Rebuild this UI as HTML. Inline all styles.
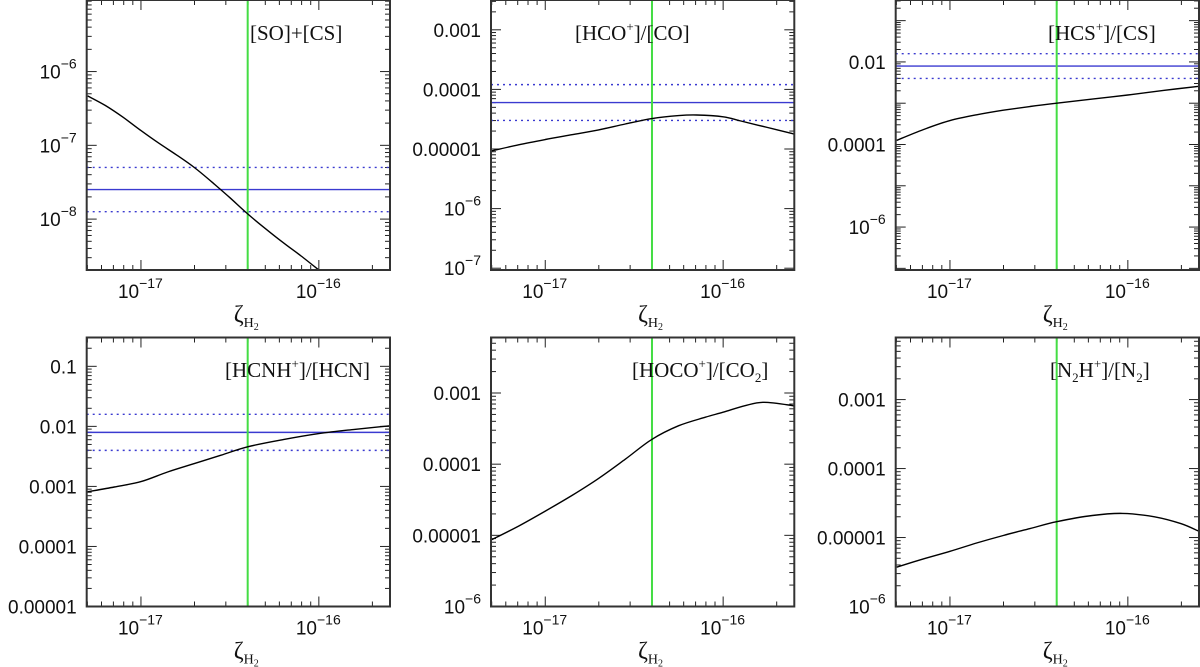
<!DOCTYPE html>
<html><head><meta charset="utf-8"><style>
html,body{margin:0;padding:0;background:#fff;}
svg{display:block;}
</style></head><body>
<svg id="fig" width="1200" height="667" viewBox="0 0 1200 667" xmlns="http://www.w3.org/2000/svg"></svg>
<script>
// x values (log10 zeta) and series (log10 ratio) per panel
const logZetaP1 = [-17.3,-17.2,-17.1,-17.0,-16.9,-16.8,-16.7,-16.6,-16.5,-16.4,-16.3,-16.2,-16.1,-16.0];
const valsP1 = [-6.33,-6.46,-6.62,-6.8,-6.97,-7.13,-7.3,-7.5,-7.71,-7.93,-8.13,-8.32,-8.5,-8.69];
const logZetaP2 = [-17.3,-17.15,-17.0,-16.85,-16.7,-16.55,-16.4,-16.25,-16.15,-16.0,-15.9,-15.75,-15.6];
const valsP2 = [-5.03,-4.93,-4.84,-4.76,-4.68,-4.58,-4.49,-4.44,-4.43,-4.46,-4.53,-4.64,-4.75];
const logZetaP3 = [-17.3,-17.15,-17.0,-16.85,-16.7,-16.55,-16.4,-16.2,-16.0,-15.8,-15.6];
const valsP3 = [-3.9,-3.64,-3.42,-3.28,-3.17,-3.08,-3.0,-2.9,-2.8,-2.69,-2.59];
const logZetaP4 = [-17.3,-17.15,-17.0,-16.85,-16.7,-16.55,-16.4,-16.2,-16.0,-15.8,-15.6];
const valsP4 = [-3.09,-3.01,-2.92,-2.76,-2.62,-2.48,-2.34,-2.22,-2.12,-2.05,-1.99];
const logZetaP5 = [-17.3,-17.15,-17.0,-16.85,-16.7,-16.55,-16.4,-16.25,-16.1,-16.0,-15.88,-15.77,-15.6];
const valsP5 = [-5.06,-4.87,-4.66,-4.44,-4.2,-3.93,-3.65,-3.46,-3.34,-3.27,-3.18,-3.13,-3.18];
const logZetaP6 = [-17.3,-17.15,-17.0,-16.85,-16.7,-16.55,-16.4,-16.2,-16.03,-15.85,-15.7,-15.6];
const valsP6 = [-5.43,-5.31,-5.2,-5.08,-4.97,-4.87,-4.77,-4.68,-4.65,-4.7,-4.8,-4.91];
// observed ratios (log10): solid, upper dotted, lower dotted
const obsP1 = [-7.6,-7.3,-7.9];
const obsP2 = [-4.22,-3.92,-4.52];
const obsP3 = [-2.1,-1.8,-2.4];
const obsP4 = [-2.1,-1.8,-2.4];
const markerZeta = -16.4;
const yRanges = [[-8.69,-5.03],[-7.03,-2.5],[-7.04,-0.5],[-5,-0.52],[-6,-2.22],[-6,-2.1]];
const xRange = [-17.305,-15.6];

const NS='http://www.w3.org/2000/svg';
const svg=document.getElementById('fig');
function el(tag,attrs,parent){const e=document.createElementNS(NS,tag);for(const k in attrs)e.setAttribute(k,attrs[k]);(parent||svg).appendChild(e);return e;}

const lefts=[86.7,491,895.7], rights=[390,794.3,1199];
const tops=[0,337.5], bottoms=[270,606.5];

const panels=[
 {x:logZetaP1,y:valsP1,obs:obsP1,ylab:'exp',name:'so-cs'},
 {x:logZetaP2,y:valsP2,obs:obsP2,ylab:'dec',name:'hco-co'},
 {x:logZetaP3,y:valsP3,obs:obsP3,ylab:'mix2',name:'hcs-cs'},
 {x:logZetaP4,y:valsP4,obs:obsP4,ylab:'dec',name:'hcnh-hcn'},
 {x:logZetaP5,y:valsP5,obs:null,ylab:'dec',name:'hoco-co2'},
 {x:logZetaP6,y:valsP6,obs:null,ylab:'dec',name:'n2h-n2'}
];
const labelHTML={
 'so-cs':{x:250,y:40,parts:[['[SO]+[CS]',0]]},
 'hco-co':{x:575,y:40,parts:[['[HCO',0],['+',1],[']/[CO]',0]]},
 'hcs-cs':{x:1048,y:40,parts:[['[HCS',0],['+',1],[']/[CS]',0]]},
 'hcnh-hcn':{x:225,y:377,parts:[['[HCNH',0],['+',1],[']/[HCN]',0]]},
 'hoco-co2':{x:632,y:377,parts:[['[HOCO',0],['+',1],[']/[CO',0],['2',-1],[']',0]]},
 'n2h-n2':{x:1050,y:377,parts:[['[N',0],['2',-1],['H',0],['+',1],[']/[N',0],['2',-1],[']',0]]}
};

function decLabel(p){
  const map={'-1':'0.1','-2':'0.01','-3':'0.001','-4':'0.0001','-5':'0.00001'};
  return map[String(p)];
}
function smoothPath(px){
  let d='M'+px[0][0].toFixed(1)+','+px[0][1].toFixed(1);
  for(let i=0;i<px.length-1;i++){
    const p0=px[Math.max(0,i-1)],p1=px[i],p2=px[i+1],p3=px[Math.min(px.length-1,i+2)];
    const c1x=p1[0]+(p2[0]-p0[0])/6,c1y=p1[1]+(p2[1]-p0[1])/6;
    const c2x=p2[0]-(p3[0]-p1[0])/6,c2y=p2[1]-(p3[1]-p1[1])/6;
    d+=' C'+c1x.toFixed(1)+','+c1y.toFixed(1)+' '+c2x.toFixed(1)+','+c2y.toFixed(1)+' '+p2[0].toFixed(1)+','+p2[1].toFixed(1);
  }
  return d;
}

panels.forEach((P,i)=>{
  const col=i%3,row=Math.floor(i/3);
  const L=lefts[col],R=rights[col],T=tops[row],B=bottoms[row];
  const [y0,y1]=yRanges[i];
  const sx=v=>L+(v-xRange[0])/(xRange[1]-xRange[0])*(R-L);
  const sy=v=>B-(v-y0)/(y1-y0)*(B-T);
  const g=el('g',{});
  
  
  const cid='clip'+i;
  const cp=el('clipPath',{id:cid},g);el('rect',{x:L,y:T,width:R-L,height:B-T},cp);
  for(let d=-18;d<=-16;d++){for(let m=1;m<=9;m++){const v=d+Math.log10(m);if(v<xRange[0]||v>xRange[1])continue;const x=sx(v);const len=m===1?10:5;
    el('line',{x1:x,y1:B,x2:x,y2:B-len,stroke:'#222','stroke-width':1},g);el('line',{x1:x,y1:T,x2:x,y2:T+len,stroke:'#222','stroke-width':1},g);}}
  for(let d=Math.floor(y0);d<=Math.ceil(y1);d++){for(let m=1;m<=9;m++){const v=d+Math.log10(m);if(v<y0-0.001||v>y1)continue;const y=sy(v);const len=m===1?10:5;
    el('line',{x1:L,y1:y,x2:L+len,y2:y,stroke:'#222','stroke-width':1},g);el('line',{x1:R,y1:y,x2:R-len,y2:y,stroke:'#222','stroke-width':1},g);}
    if(d<y0-0.01||d>y1)continue;
    const y=sy(d);
    if(P.ylab==='mix2'&&d%2!==0)continue;
    const t=el('text',{x:L-10,y:y+7,'text-anchor':'end','font-family':'"Liberation Sans",sans-serif','font-size':19,fill:'#111'},g);
    
    
    const useDec=(P.ylab==='dec'&&d>=-5)||(P.ylab==='mix2'&&d>=-4);
    if(useDec){t.textContent=decLabel(d);}
    else{const a=el('tspan',{},t);a.textContent='10';const b=el('tspan',{dy:-10,'font-size':14},t);b.textContent='\u2212'+(-d);}
  }
  [-17,-16].forEach(d=>{const x=sx(d);const t=el('text',{x:x-23,y:B+28,'font-family':'"Liberation Sans",sans-serif','font-size':19,fill:'#111'},g);
    
    
    const a=el('tspan',{},t);a.textContent='10';const b=el('tspan',{dy:-10,'font-size':14},t);b.textContent='\u2212'+(-d);});
  const xt=el('text',{x:sx(markerZeta)-14,y:B+52,'font-family':'"Liberation Serif",serif','font-size':24,fill:'#111'},g);
  
  
  const z=el('tspan',{},xt);z.textContent='\u03B6';const s1=el('tspan',{dy:5,'font-size':14},xt);s1.textContent='H';const s2=el('tspan',{dy:3,'font-size':10},xt);s2.textContent='2';
  if(P.obs){
    const ls=el('line',{x1:L,x2:R,y1:sy(P.obs[0]),y2:sy(P.obs[0]),stroke:'#3a3ad0','stroke-width':1.4},g);
    
    [1,2].forEach(k=>{const l=el('line',{x1:L,x2:R,y1:sy(P.obs[k]),y2:sy(P.obs[k]),stroke:'#3a3ad0','stroke-width':1.4,'stroke-dasharray':'2,4'},g);
      });
  }
  const gl=el('line',{x1:sx(markerZeta),x2:sx(markerZeta),y1:T,y2:B,stroke:'#44dd44','stroke-width':2},g);
  
  const px=P.x.map((v,k)=>[sx(v),sy(P.y[k])]);
  const pl=el('path',{d:smoothPath(px),fill:'none',stroke:'#000','stroke-width':1.4,'clip-path':'url(#'+cid+')'},g);
  
  const fr=el('rect',{x:L,y:T,width:R-L,height:B-T,fill:'none',stroke:'#333','stroke-width':2},g);
  
  const LH=labelHTML[P.name];
  const lt=el('text',{x:LH.x,y:LH.y,'font-family':'"Liberation Serif",serif','font-size':21,fill:'#111'},g);
  
  let cur=0;
  LH.parts.forEach(([txt,lvl])=>{const dy=(lvl===1?-9:lvl===-1?5:0)-cur;cur+=dy;const ts=el('tspan',{dy:dy,'font-size':lvl===0?21:13},lt);ts.textContent=txt;});
});
</script>
</body></html>
